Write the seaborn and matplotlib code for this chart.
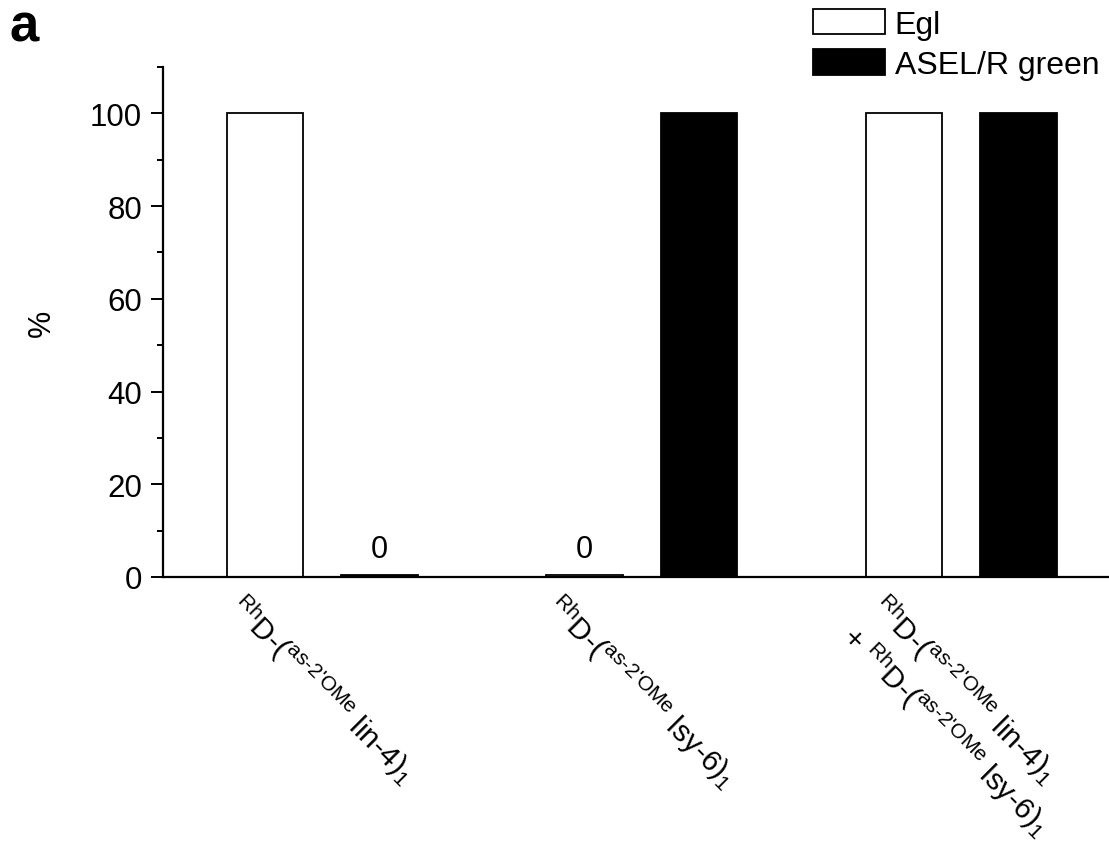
import matplotlib
matplotlib.use("Agg")
import matplotlib.pyplot as plt
from matplotlib.ticker import MultipleLocator
import pandas as pd
import seaborn as sns

# values
conditions = ["lin-4", "lsy-6", "lin-4 + lsy-6"]
egl_pct = [100, 0.5, 100]
asel_pct = [0.5, 100, 100]
series_names = ["Egl", "ASEL/R green"]

tick_labels = [
    r"$^{\text{Rh}}$D-($^{\text{as-2'OMe}}$ lin-4)$_1$",
    r"$^{\text{Rh}}$D-($^{\text{as-2'OMe}}$ lsy-6)$_1$",
    r"$^{\text{Rh}}$D-($^{\text{as-2'OMe}}$ lin-4)$_1$" + "\n"
    + r"+ $^{\text{Rh}}$D-($^{\text{as-2'OMe}}$ lsy-6)$_1$",
]

sns.set_style("white")
plt.rcParams['font.family'] = ['Liberation Sans', 'DejaVu Sans']
plt.rcParams['mathtext.fontset'] = 'custom'
plt.rcParams['mathtext.rm'] = 'Liberation Sans'
plt.rcParams['mathtext.it'] = 'Liberation Sans:italic'
plt.rcParams['mathtext.bf'] = 'Liberation Sans:bold'
for key in ['text.color', 'axes.labelcolor', 'xtick.color', 'ytick.color']:
    plt.rcParams[key] = 'black'

df = pd.DataFrame({
    'condition': conditions * 2,
    'series': [series_names[0]] * len(conditions) + [series_names[1]] * len(conditions),
    'value': egl_pct + asel_pct,
})

fig = plt.figure(figsize=(11.09, 8.54), dpi=100)
ax = fig.add_axes([0.147, 0.3232, 0.853, 0.5972])

sns.barplot(data=df, x='condition', y='value', hue='series', order=conditions,
            hue_order=series_names, palette={series_names[0]: 'white', series_names[1]: 'black'},
            saturation=1, width=0.716, gap=0.33, edgecolor='black', linewidth=1.3,
            errorbar=None, ax=ax)

# label the (near) zero bars
for cont in ax.containers:
    vals = [b.get_height() for b in cont]
    labels = ["%.0f" % v if v < 1 else "" for v in vals]
    ax.bar_label(cont, labels=labels, padding=8, fontsize=22)

ax.set_xlim(-0.498, 2.4625)
ax.set_ylim(0, 110)
ax.yaxis.set_major_locator(MultipleLocator(20))
ax.yaxis.set_minor_locator(MultipleLocator(10))
ax.tick_params(axis='y', which='major', direction='out', length=9, width=1.4, labelsize=22.5, left=True, pad=6)
ax.tick_params(axis='y', which='minor', direction='out', length=4.5, width=1.4, left=True)
ax.tick_params(axis='x', length=0, pad=8)

ax.set_xticks(range(len(conditions)))
ax.set_xticklabels(tick_labels, rotation=-45, ha='center', va='top', fontsize=21.5,
                   multialignment='left', linespacing=1.2)
ax.set_xlabel('')
ax.set_ylabel('%', fontsize=22, labelpad=24)

for side in ['top', 'right']:
    ax.spines[side].set_visible(False)
for side in ['left', 'bottom']:
    ax.spines[side].set_linewidth(1.6)
    ax.spines[side].set_color('black')

ax.legend(loc='upper right', bbox_to_anchor=(1.0, 1.0), bbox_transform=fig.transFigure,
          frameon=False, fontsize=23, handlelength=2.25, handleheight=0.87,
          labelspacing=0.3, handletextpad=0.3, borderaxespad=0.2, borderpad=0.1)

fig.text(0.009, 0.951, 'a', fontsize=38, fontweight='bold', ha='left', va='baseline')

fig.savefig('out.png', dpi=100, facecolor='white')
